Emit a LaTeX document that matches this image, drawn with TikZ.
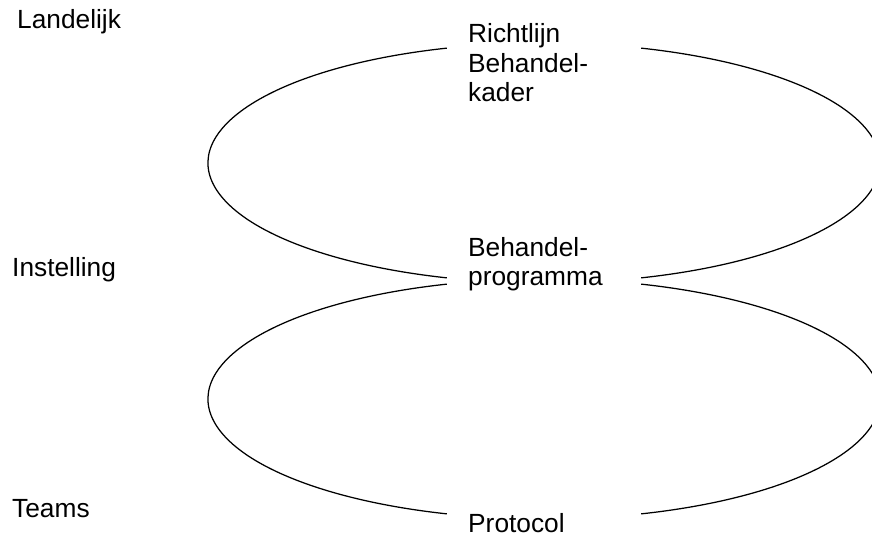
\documentclass[tikz,border=0pt]{standalone}
\usepackage{fontspec}
\setmainfont{Liberation Sans}
\usetikzlibrary{calc}

\tikzset{
  lbl/.style={anchor=base west, inner sep=0pt, font=\fontsize{26.3}{30}\selectfont},
  loopline/.style={draw=black, line width=1.25pt}
}

\begin{document}
\begin{tikzpicture}[x=1pt,y=1pt]
  \useasboundingbox (0,0) rectangle (872,536);
  \clip (0,0) rectangle (872,536);

  % level labels on the left
  \node[lbl] (landelijk)  at (17,507) {Landelijk};
  \node[lbl] (instelling) at (12,259) {Instelling};
  \node[lbl] (teams)      at (12,19)  {Teams};

  % documents in the middle column
  \node[lbl] (richtlijn) at (468,493) {Richtlijn};
  \node[lbl] (behkader)  at (468,463) {Behandel-};
  \node[lbl] (kader)     at (468,434) {kader};
  \node[lbl] (behprog)   at (468,279) {Behandel-};
  \node[lbl] (programma) at (468,251) {programma};
  \node[lbl] (protocol)  at (468,4)   {Protocol};

  % centres of the two loops
  \coordinate (top) at (544,373);
  \coordinate (bot) at (544,137);

  % upper loop: left and right halves, broken where the texts sit
  \draw[loopline] ($(top)+(106.8:336pt and 120pt)$)
    arc[start angle=106.8, end angle=253.2, x radius=336pt, y radius=120pt];
  \draw[loopline] ($(top)+(-73.2:336pt and 120pt)$)
    arc[start angle=-73.2, end angle=73.2, x radius=336pt, y radius=120pt];

  % lower loop
  \draw[loopline] ($(bot)+(106.8:336pt and 120pt)$)
    arc[start angle=106.8, end angle=253.2, x radius=336pt, y radius=120pt];
  \draw[loopline] ($(bot)+(-73.2:336pt and 120pt)$)
    arc[start angle=-73.2, end angle=73.2, x radius=336pt, y radius=120pt];
\end{tikzpicture}
\end{document}
